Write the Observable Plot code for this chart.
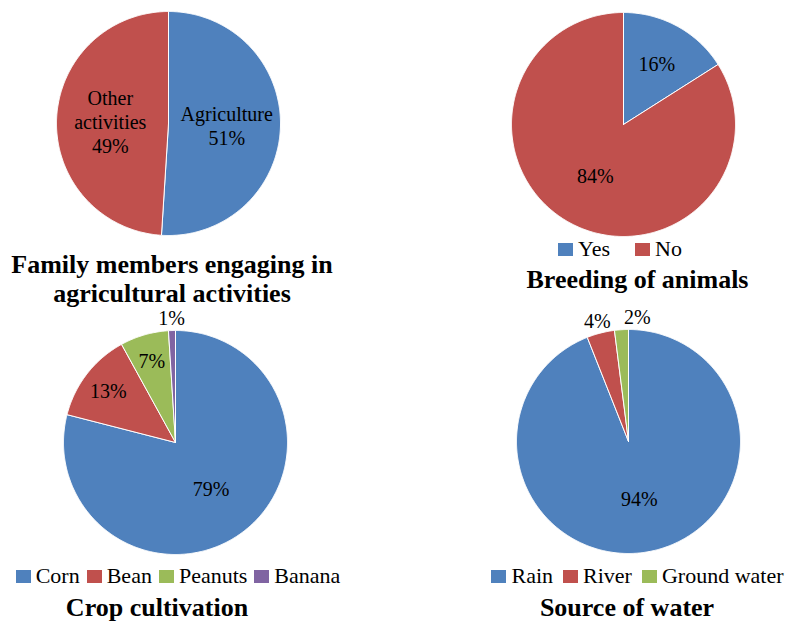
<!DOCTYPE html>
<html>
<head>
<meta charset="utf-8">
<script src="https://cdn.jsdelivr.net/npm/d3@7"></script>
<script src="https://cdn.jsdelivr.net/npm/@observablehq/plot@0.6"></script>
<style>
  body { margin: 0; background: #fff; }
  #chart {
    position: relative; width: 787px; height: 624px; overflow: hidden;
    font-family: "Liberation Serif", "Times New Roman", serif; color: #000;
  }
  #chart svg.pie { position: absolute; }
  .legend {
    position: absolute; text-align: center; white-space: nowrap;
    font-size: 22px; line-height: 22px;
  }
  .legend .item + .item { margin-left: var(--gap); }
  .swatch { display: inline-block; width: 15px; height: 13px; margin-right: 5px; }
  .title {
    position: absolute; text-align: center; white-space: nowrap;
    font-weight: bold; font-size: 26px; line-height: 29px;
  }
</style>
</head>
<body>
<div id="chart"></div>
<script>
// Family members engaging in agricultural activities
const familyNames = ["Agriculture", "Other activities"];
const familyLabelNames = ["Agriculture", "Other\nactivities"];
const familyValues = [51, 49];

// Breeding of animals
const breedingNames = ["Yes", "No"];
const breedingValues = [16, 84];

// Crop cultivation
const cropNames = ["Corn", "Bean", "Peanuts", "Banana"];
const cropValues = [79, 13, 7, 1];

// Source of water
const waterNames = ["Rain", "River", "Ground water"];
const waterValues = [94, 4, 2];

// Office-style series colours
const palette = ["#4F81BD", "#C0504D", "#9BBB59", "#8064A2"];

const R = 112;          // pie radius in pixels
const W = 300, H = 280; // size of each pie's SVG

const chart = document.getElementById("chart");

function piePanel({names, values, labelText, cx, cy}) {
  const colors = palette.slice(0, names.length);
  const arcs = d3.pie().sort(null).value(d => d)(values);
  const total = d3.sum(values);

  // slice outlines: centre -> arc -> centre, in unit-radius coordinates
  const outline = [];
  arcs.forEach((a, i) => {
    const n = Math.max(2, Math.ceil((a.endAngle - a.startAngle) / (Math.PI / 360)));
    outline.push({name: names[i], x: 0, y: 0});
    for (let k = 0; k <= n; k++) {
      const t = a.startAngle + (a.endAngle - a.startAngle) * k / n;
      outline.push({name: names[i], x: Math.sin(t), y: Math.cos(t)});
    }
    outline.push({name: names[i], x: 0, y: 0});
  });

  // data labels: inside for large slices, just outside the rim for tiny ones
  const labels = arcs.map((a, i) => {
    const share = values[i] / total;
    const mid = (a.startAngle + a.endAngle) / 2;
    const outside = share < 0.05;
    const f = outside ? 1.12 : share >= 0.3 ? 0.52 : share >= 0.15 ? 0.62 : 0.76;
    return {text: labelText(i), x: f * Math.sin(mid), y: f * Math.cos(mid), outside};
  });
  // keep neighbouring outside labels from colliding
  const out = labels.filter(d => d.outside).sort((a, b) => a.x - b.x);
  const minSep = 40 / R;
  for (let k = 1; k < out.length; k++) {
    if (out[k].x - out[k - 1].x < minSep) out[k].x = out[k - 1].x + minSep;
  }

  const svg = Plot.plot({
    width: W, height: H, margin: 0,
    style: {background: "none", overflow: "visible"},
    x: {domain: [-W / 2 / R, W / 2 / R], axis: null},
    y: {domain: [-H / 2 / R, H / 2 / R], axis: null},
    color: {domain: names, range: colors},
    marks: [
      Plot.line(outline, {
        x: "x", y: "y", z: "name", fill: "name",
        stroke: "white", strokeWidth: 1, strokeLinejoin: "round"
      }),
      Plot.text(labels, {
        x: "x", y: "y", text: "text",
        fontSize: 20, fontFamily: "Liberation Serif", fill: "black", lineHeight: 1.2
      })
    ]
  });
  svg.classList.add("pie");
  svg.style.left = (cx - W / 2) + "px";
  svg.style.top = (cy - H / 2) + "px";
  chart.appendChild(svg);
}

function legend(names, {cx, top, gap}) {
  const div = document.createElement("div");
  div.className = "legend";
  div.style.left = (cx - 200) + "px";
  div.style.width = "400px";
  div.style.top = top + "px";
  div.style.setProperty("--gap", gap + "px");
  names.forEach((name, i) => {
    const item = document.createElement("span");
    item.className = "item";
    const sw = document.createElement("span");
    sw.className = "swatch";
    sw.style.background = palette[i];
    item.appendChild(sw);
    item.appendChild(document.createTextNode(name));
    div.appendChild(item);
  });
  chart.appendChild(div);
}

function title(lines, {cx, top}) {
  const div = document.createElement("div");
  div.className = "title";
  div.style.left = (cx - 200) + "px";
  div.style.width = "400px";
  div.style.top = top + "px";
  div.innerHTML = lines.join("<br>");
  chart.appendChild(div);
}

piePanel({
  names: familyNames, values: familyValues,
  labelText: i => `${familyLabelNames[i]}\n${familyValues[i]}%`,
  cx: 168.3, cy: 122.5
});
title(["Family members engaging in", "agricultural activities"], {cx: 172, top: 249.7});

piePanel({
  names: breedingNames, values: breedingValues,
  labelText: i => `${breedingValues[i]}%`,
  cx: 623, cy: 123.5
});
legend(breedingNames, {cx: 620, top: 238.3, gap: 25});
title(["Breeding of animals"], {cx: 637.5, top: 265});

piePanel({
  names: cropNames, values: cropValues,
  labelText: i => `${cropValues[i]}%`,
  cx: 175, cy: 442
});
legend(cropNames, {cx: 178, top: 565, gap: 7});
title(["Crop cultivation"], {cx: 157, top: 593.4});

piePanel({
  names: waterNames, values: waterValues,
  labelText: i => `${waterValues[i]}%`,
  cx: 627.7, cy: 440.7
});
legend(waterNames, {cx: 637.5, top: 565, gap: 10});
title(["Source of water"], {cx: 627, top: 593.4});
</script>
</body>
</html>
